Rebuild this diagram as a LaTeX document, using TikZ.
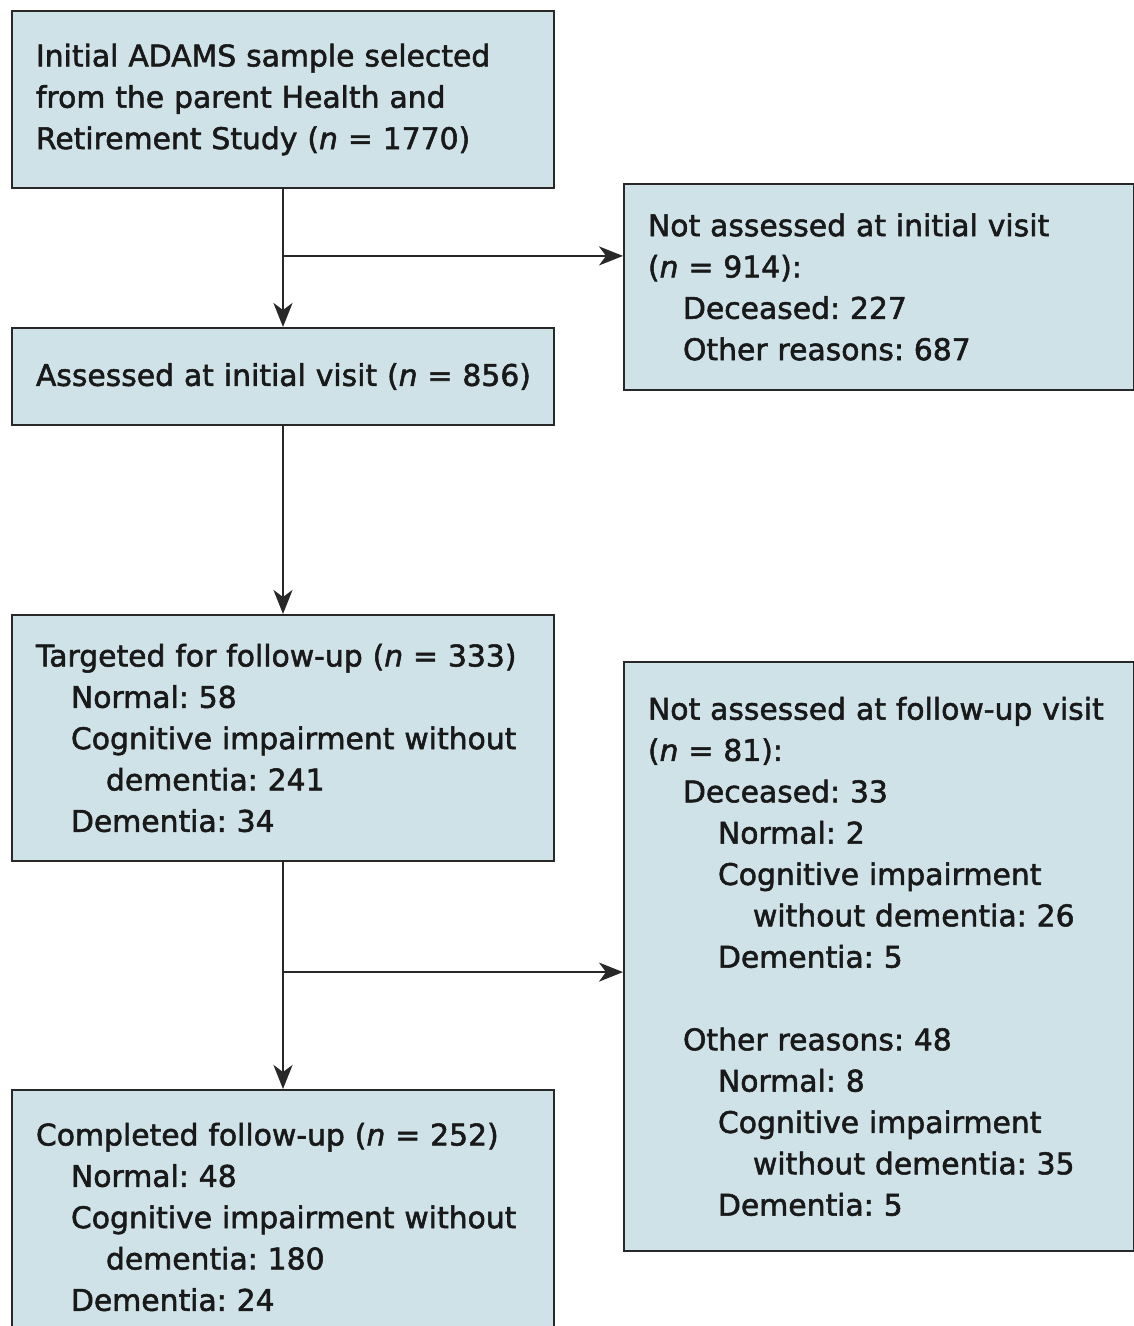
\documentclass[tikz,border=0pt]{standalone}
\usepackage{fontspec}
\setmainfont{DejaVu Sans}[FakeBold=1.8]
\usetikzlibrary{arrows.meta, positioning, calc}
\definecolor{boxfill}{RGB}{206,226,231}
\definecolor{linegray}{RGB}{40,40,40}
\frenchspacing
\hfuzz=20pt
\hyphenpenalty=10000
\exhyphenpenalty=10000

\begin{document}
\begin{tikzpicture}[
  x=1pt, y=-1pt,
  box/.style = {
    draw=linegray,
    line width=2pt,
    fill=boxfill,
    inner xsep=24pt,
    inner ysep=0pt,
    align=left,
    text=black!90,
    font=\fontsize{29.8}{41.33}\selectfont,
    anchor=north west
  },
  leftbox/.style = {box, text width=494pt},
  rightbox/.style = {box, text width=462pt},
  arrow/.style = {line width=2pt, draw=linegray, -{Stealth[length=24pt, width=19pt, inset=7pt]}},
  node distance=138pt
]
\useasboundingbox (0,0) rectangle (1134,1326);

% ======================================================
% LEFT COLUMN
% ======================================================

\node[leftbox, minimum height=177pt] (initial) at (11,10) {
  Initial ADAMS sample selected\\
  from the parent Health and\\
  Retirement Study (\textit{n}~=~1770)
};

\node[leftbox, minimum height=97pt, below=138pt of initial] (assessed) {
  \mbox{Assessed at initial visit (\textit{n} = 856)}
};

\node[leftbox, minimum height=246pt, below=188pt of assessed] (targeted) {
  Targeted for follow-up (\textit{n}~=~333)\\
  \hspace*{35pt}Normal: 58\\
  \hspace*{35pt}\mbox{Cognitive impairment without}\\
  \hspace*{70pt}dementia: 241\\
  \hspace*{35pt}Dementia: 34
};

\node[leftbox, minimum height=254pt, below=227pt of targeted] (completed) {
  Completed follow-up (\textit{n}~=~252)\\
  \hspace*{35pt}Normal: 48\\
  \hspace*{35pt}\mbox{Cognitive impairment without}\\
  \hspace*{70pt}dementia: 180\\
  \hspace*{35pt}Dementia: 24
};

% ======================================================
% RIGHT COLUMN
% ======================================================

\node[rightbox, minimum height=206pt] (notinitial) at (623,183) {
  Not assessed at initial visit\\
  (\textit{n}~=~914):\\
  \hspace*{35pt}Deceased: 227\\
  \hspace*{35pt}Other reasons: 687
};

\node[rightbox, minimum height=589pt] (notfollow) at (623,661) {
  \mbox{Not assessed at follow-up visit}\\
  (\textit{n}~=~81):\\
  \hspace*{35pt}Deceased: 33\\
  \hspace*{70pt}Normal: 2\\
  \hspace*{70pt}Cognitive impairment\\
  \hspace*{105pt}\mbox{without dementia: 26}\\
  \hspace*{70pt}Dementia: 5\\[41.33pt]
  \hspace*{35pt}Other reasons: 48\\
  \hspace*{70pt}Normal: 8\\
  \hspace*{70pt}Cognitive impairment\\
  \hspace*{105pt}\mbox{without dementia: 35}\\
  \hspace*{70pt}Dementia: 5
};

% ---- Arrows ----
\draw[arrow] (initial.south) -- (assessed.north);
\draw[arrow] (assessed.south) -- (targeted.north);
\draw[arrow] (targeted.south) -- (completed.north);

% split to the not-assessed boxes
\coordinate (split1) at ($(initial.south)!0.485!(assessed.north)$);
\draw[arrow] (split1) -- (split1 -| notinitial.west);

\coordinate (split2) at ($(targeted.south)!0.485!(completed.north)$);
\draw[arrow] (split2) -- (split2 -| notfollow.west);

\end{tikzpicture}
\end{document}
